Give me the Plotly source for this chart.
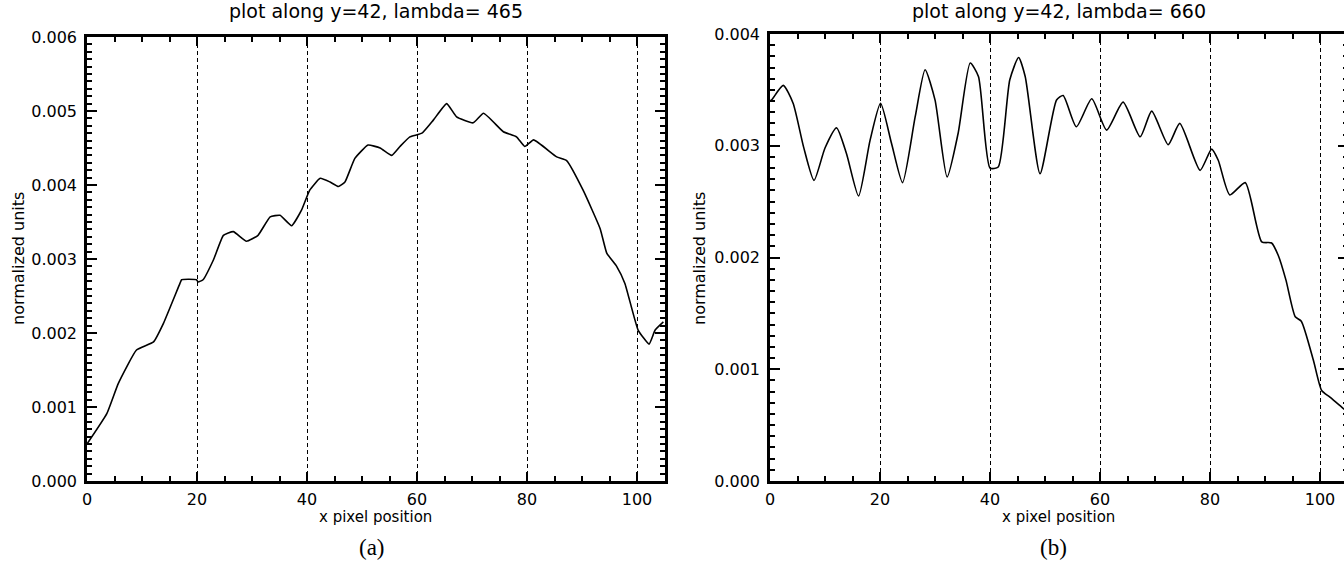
import plotly.graph_objects as go

# Panel (a): lambda = 465
x_a = [0, 3.6, 5.7, 9.0, 12.1, 13.9, 16.9, 17.2, 19.9, 20.2, 21.1, 23.0, 24.8, 26.6, 29.0, 31.1,
       33.3, 35.1, 37.2, 39.0, 40.5, 42.4, 44.2, 45.7, 46.9, 48.7, 51.1, 53.3, 55.4, 56.9, 58.7,
       60.9, 63.0, 65.4, 67.2, 70.2, 72.1, 75.7, 78.1, 79.6, 81.2, 85.4, 87.2, 90.2, 93.3, 94.5,
       96.3, 97.8, 100.2, 102.2, 103.3, 104.8]
y_a = [0.00050, 0.00091, 0.00132, 0.00177, 0.00188, 0.00213, 0.00267, 0.00272, 0.00272, 0.00269,
       0.00272, 0.00299, 0.00332, 0.00337, 0.00324, 0.00332, 0.00357, 0.00359, 0.00345, 0.00366,
       0.00393, 0.00409, 0.00404, 0.00398, 0.00404, 0.00436, 0.00454, 0.00450, 0.00440, 0.00452,
       0.00465, 0.00470, 0.00488, 0.00510, 0.00492, 0.00484, 0.00497, 0.00472, 0.00465, 0.00452,
       0.00461, 0.00438, 0.00433, 0.00393, 0.00341, 0.00308, 0.00290, 0.00267, 0.00204, 0.00185,
       0.00204, 0.00215]

# Panel (b): lambda = 660
x_b = [0, 0.3, 2.4, 4.2, 6.1, 8.0, 10.0, 12.1, 13.9, 16.1, 18.2, 20.1, 22.1, 24.1, 26.4, 28.2,
       30.0, 32.2, 34.2, 36.4, 37.9, 40.0, 41.5, 43.6, 45.2, 46.4, 49.1, 52.1, 53.3, 55.7, 58.5,
       61.2, 64.2, 67.3, 69.4, 72.4, 74.5, 78.2, 80.3, 81.5, 83.6, 86.4, 89.4, 91.2, 92.4, 93.8,
       95.5, 96.6, 98.8, 100.3, 101.8, 104.2, 105.0]
y_b = [0.00340, 0.00341, 0.00354, 0.00338, 0.00299, 0.00269, 0.00298, 0.00316, 0.00293, 0.00255,
       0.00305, 0.00338, 0.00302, 0.00267, 0.00326, 0.00368, 0.00341, 0.00272, 0.00311, 0.00374,
       0.00362, 0.00280, 0.00281, 0.00359, 0.00379, 0.00362, 0.00275, 0.00341, 0.00345, 0.00317,
       0.00342, 0.00314, 0.00339, 0.00308, 0.00331, 0.00301, 0.00320, 0.00278, 0.00297, 0.00287,
       0.00256, 0.00267, 0.00214, 0.00213, 0.00202, 0.00180, 0.00147, 0.00143, 0.00108, 0.00081,
       0.00075, 0.00065, 0.00062]

titles = ["plot along y=42, lambda= 465", "plot along y=42, lambda= 660"]
x_title = "x pixel position"
y_title = "normalized units"
panel_labels = ["(a)", "(b)"]
x_ticks = [0, 20, 40, 60, 80, 100]
y_ticks_a = [0.000, 0.001, 0.002, 0.003, 0.004, 0.005, 0.006]
y_ticks_b = [0.000, 0.001, 0.002, 0.003, 0.004]

W, H = 1348, 565
FONT = "DejaVu Sans"

fig = go.Figure()
fig.add_trace(go.Scatter(x=x_a, y=y_a, mode="lines",
                         line=dict(color="black", width=1.6, shape="spline", smoothing=0.4),
                         xaxis="x", yaxis="y", showlegend=False, hoverinfo="skip"))
fig.add_trace(go.Scatter(x=x_b, y=y_b, mode="lines",
                         line=dict(color="black", width=1.6, shape="spline", smoothing=0.6),
                         xaxis="x2", yaxis="y2", showlegend=False, hoverinfo="skip"))


def xaxis_cfg(domain, rng, anchor):
    return dict(domain=domain, range=rng, anchor=anchor, automargin=False,
                tickvals=x_ticks, ticktext=[str(v) for v in x_ticks],
                ticks="inside", ticklen=9, tickwidth=2, tickcolor="black",
                minor=dict(dtick=5, tick0=0, ticks="inside", ticklen=5, tickwidth=2,
                           tickcolor="black", showgrid=False),
                showline=True, linewidth=2.5, linecolor="black", mirror="allticks",
                showgrid=True, gridcolor="black", gridwidth=1, griddash="4px,3px",
                zeroline=False, ticklabelstandoff=2,
                tickfont=dict(family=FONT, size=16, color="black"))


def yaxis_cfg(domain, rng, anchor, vals):
    return dict(domain=domain, range=rng, anchor=anchor, automargin=False,
                tickvals=vals, ticktext=["%.3f" % v for v in vals],
                ticks="inside", ticklen=10, tickwidth=2, tickcolor="black",
                minor=dict(dtick=0.0001, tick0=0, ticks="inside", ticklen=5, tickwidth=2,
                           tickcolor="black", showgrid=False),
                showline=True, linewidth=2.5, linecolor="black", mirror="allticks",
                showgrid=False, zeroline=False, ticklabelstandoff=4,
                tickfont=dict(family=FONT, size=16, color="black"))


ydom_a = [(H - 481) / H, (H - 37) / H]
ydom_b = [(H - 481) / H, (H - 34) / H]

fig.update_layout(
    template="none",
    width=W, height=H,
    margin=dict(l=0, r=0, t=0, b=0, pad=0),
    paper_bgcolor="white", plot_bgcolor="white",
    xaxis=xaxis_cfg([87 / W, 664.5 / W], [0, 105], "y"),
    yaxis=yaxis_cfg(ydom_a, [0, 0.006], "x", y_ticks_a),
    xaxis2=xaxis_cfg([770 / W, 1347.5 / W], [0, 105], "y2"),
    yaxis2=yaxis_cfg(ydom_b, [0, 0.004], "x2", y_ticks_b),
)

ann = []
for i, (cx, ylab_x) in enumerate([(375.5, 18), (1058.5, 699)]):
    ann.append(dict(text=titles[i], xref="paper", yref="paper", x=cx / W, y=(H - 11) / H,
                    showarrow=False, xanchor="center", yanchor="middle",
                    font=dict(family=FONT, size=19, color="black")))
    ann.append(dict(text=x_title, xref="paper", yref="paper", x=cx / W, y=(H - 517) / H,
                    showarrow=False, xanchor="center", yanchor="middle",
                    font=dict(family=FONT, size=15, color="black")))
    ann.append(dict(text=y_title, xref="paper", yref="paper", x=ylab_x / W, y=(H - 259) / H,
                    showarrow=False, xanchor="center", yanchor="middle", textangle=-90,
                    font=dict(family=FONT, size=16, color="black")))
for lab, lx in zip(panel_labels, [372, 1053]):
    ann.append(dict(text=lab, xref="paper", yref="paper", x=lx / W, y=(H - 547) / H,
                    showarrow=False, xanchor="center", yanchor="middle",
                    font=dict(family="Liberation Serif", size=23, color="black")))
fig.update_layout(annotations=ann)

fig.write_html("out.html", config=dict(displayModeBar=False),
               post_script="document.body.style.margin='0px';document.body.style.overflow='hidden';"
                           "document.documentElement.style.overflow='hidden';")
